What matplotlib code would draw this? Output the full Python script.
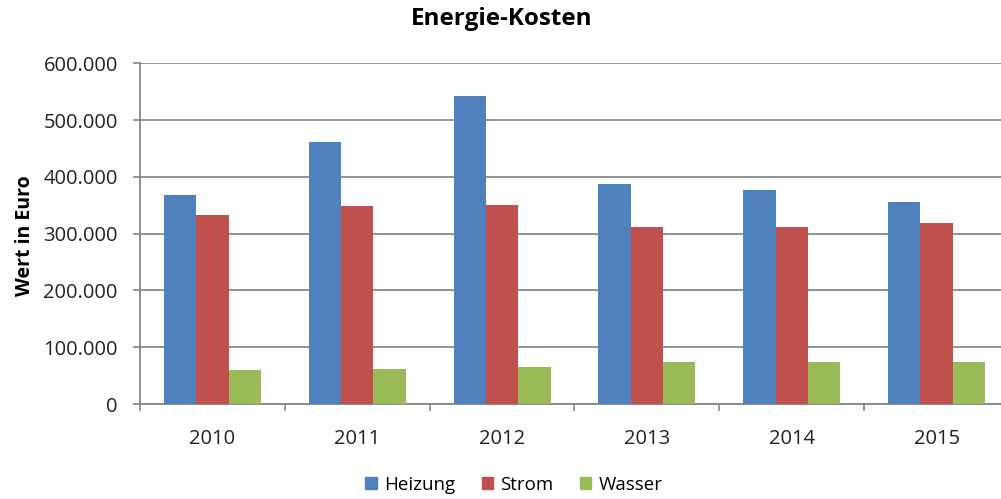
import matplotlib
matplotlib.use("Agg")
import matplotlib.pyplot as plt
import numpy as np
from matplotlib.ticker import FuncFormatter
from matplotlib.patches import Patch

years = ["2010", "2011", "2012", "2013", "2014", "2015"]
heizung = [368000, 462000, 543000, 387000, 377000, 356000]
strom = [332000, 348000, 351000, 311000, 311000, 318000]
wasser = [59000, 62000, 65000, 74000, 74000, 74000]
series_names = ["Heizung", "Strom", "Wasser"]
colors = ["#4F81BD", "#C0504D", "#9BBB59"]

plt.rcParams['font.family'] = ['Open Sans', 'DejaVu Sans']

fig = plt.figure(figsize=(10.01, 4.99), dpi=100)
ax = fig.add_axes([140/1001, (499-404)/499, 869/1001, (404-63.3)/499])

x = np.arange(len(years))
w = 0.223
for i, (vals, c) in enumerate(zip([heizung, strom, wasser], colors)):
    ax.bar(x + (i-1)*w, vals, width=w, color=c, zorder=3, linewidth=0)

ax.set_xlim(-0.5, len(years)-0.5)
ax.set_ylim(0, 600000)
ax.set_yticks(np.arange(0, 600001, 100000))
ax.yaxis.set_major_formatter(FuncFormatter(lambda v, p: "0" if v == 0 else f"{int(v):,}".replace(",", ".")))
ax.set_xticks(x)
ax.set_xticklabels(years)
ax.set_xticks(np.arange(-0.5, len(years), 1.0), minor=True)
ax.tick_params(axis='x', which='major', length=0, pad=18, labelsize=14.5, colors='#222222')
ax.tick_params(axis='x', which='minor', length=5, width=1.2, color='#868686', direction='out')
ax.tick_params(axis='y', length=5, width=1.2, color='#868686', pad=11, labelsize=14.5, labelcolor='#222222')

ax.grid(axis='y', color='#8a8a8a', linewidth=1.3, zorder=0)
for s in ['top', 'right']:
    ax.spines[s].set_visible(False)
for s in ['left', 'bottom']:
    ax.spines[s].set_color('#868686')
    ax.spines[s].set_linewidth(1.3)

fig.text(502/1001, 1-19/499, "Energie-Kosten", ha='center', va='center', fontsize=17.5, fontweight='bold')
fig.text(25/1001, 1-236/499, "Wert in Euro", ha='center', va='center', rotation=90, fontsize=14, fontweight='bold')

handles = [Patch(color=c, label=n) for c, n in zip(colors, series_names)]
fig.legend(handles=handles, loc='center', bbox_to_anchor=(514/1001, 1-485/499), ncol=3, frameon=False,
           fontsize=13.5, handlelength=0.6, handleheight=0.6, handletextpad=0.4, columnspacing=1.4)

fig.savefig("out.png", dpi=100)
